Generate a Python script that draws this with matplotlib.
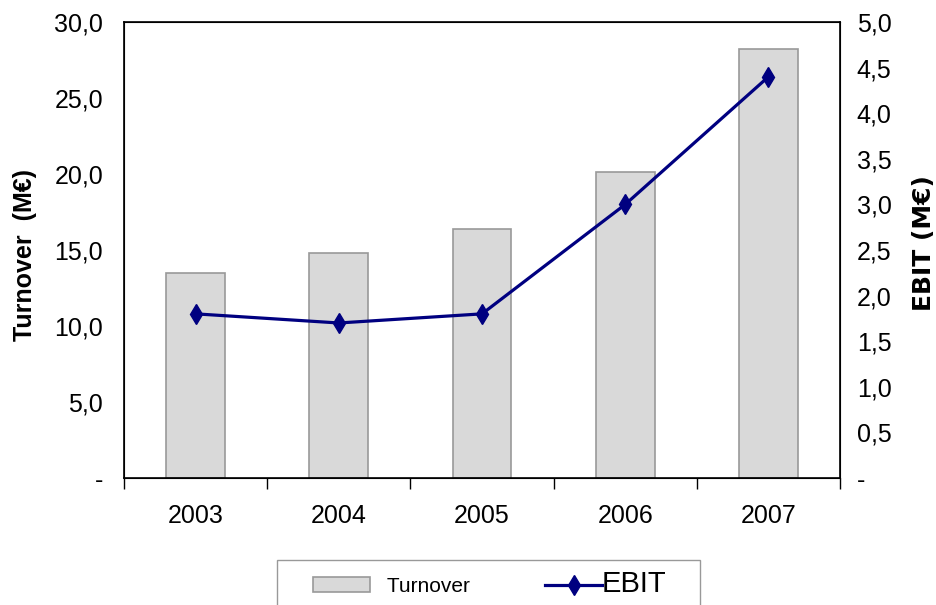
import matplotlib.pyplot as plt
from matplotlib.lines import Line2D
from matplotlib.patches import Patch, Rectangle
from matplotlib.ticker import FuncFormatter

plt.rcParams['font.family'] = ['Liberation Sans', 'DejaVu Sans']

# Yearly figures, in millions of euros
years = ['2003', '2004', '2005', '2006', '2007']
turnover = [13.5, 14.8, 16.4, 20.1, 28.2]
ebit = [1.8, 1.7, 1.8, 3.0, 4.4]

NAVY = '#000080'


def comma_fmt(v, pos):
    if abs(v) < 1e-9:
        return '-'
    return f'{v:.1f}'.replace('.', ',')


fig = plt.figure(figsize=(9.36, 6.05), dpi=100)
ax = fig.add_axes([0.1325, 0.2099, 0.765, 0.7537])
x = range(len(years))

# turnover bars on the left axis
ax.bar(x, turnover, width=0.41, color='#d9d9d9', edgecolor='#999999', linewidth=1.2, zorder=2)
ax.set_xlim(-0.5, len(years) - 0.5)
ax.set_ylim(0, 30)
ax.set_yticks([0, 5, 10, 15, 20, 25, 30])
ax.yaxis.set_major_formatter(FuncFormatter(comma_fmt))
ax.set_xticks(list(x))
ax.set_xticklabels(years)
ax.set_xticks([i + 0.5 for i in range(-1, len(years))], minor=True)
ax.tick_params(axis='x', which='major', length=0, pad=19, labelsize=18)
ax.tick_params(axis='x', which='minor', length=8, width=1, direction='out')
ax.tick_params(axis='y', length=0, pad=15, labelsize=18)
ax.set_ylabel('Turnover  (M€)', fontsize=18, fontweight='bold')
ax.yaxis.set_label_coords(-0.122, 0.49)
for s in ax.spines.values():
    s.set_linewidth(1.2)

# EBIT line on the right axis
ax2 = ax.twinx()
ax2.plot(x, ebit, color=NAVY, linewidth=2.3, marker='d', markersize=10, zorder=3)
ax2.set_ylim(0, 5)
ax2.set_yticks([0, 0.5, 1, 1.5, 2, 2.5, 3, 3.5, 4, 4.5, 5])
ax2.yaxis.set_major_formatter(FuncFormatter(comma_fmt))
ax2.tick_params(axis='y', length=0, pad=12, labelsize=18)
ax2.set_ylabel('EBIT (M€)', fontsize=18, fontweight='bold', family='DejaVu Sans')
ax2.yaxis.set_label_coords(1.10, 0.515)

# legend box along the bottom edge
fig.add_artist(Rectangle((277 / 936, -0.02), 423 / 936, 45 / 605 + 0.02,
                         transform=fig.transFigure, facecolor='white',
                         edgecolor='#999999', linewidth=1, zorder=0))
handles = [
    Patch(facecolor='#d9d9d9', edgecolor='#999999', linewidth=1.2),
    Line2D([], [], color=NAVY, linewidth=2.3, marker='d', markersize=10),
]
leg = fig.legend(handles, ['   Turnover', 'EBIT'], loc='center left',
                 bbox_to_anchor=(313 / 936, 1 - 584 / 605), ncol=2, frameon=False,
                 fontsize=15, handlelength=2.74, handletextpad=0.0,
                 columnspacing=3.6, borderpad=0, borderaxespad=0)
leg.get_texts()[1].set_fontsize(21)

fig.savefig('out.png', dpi=100)
